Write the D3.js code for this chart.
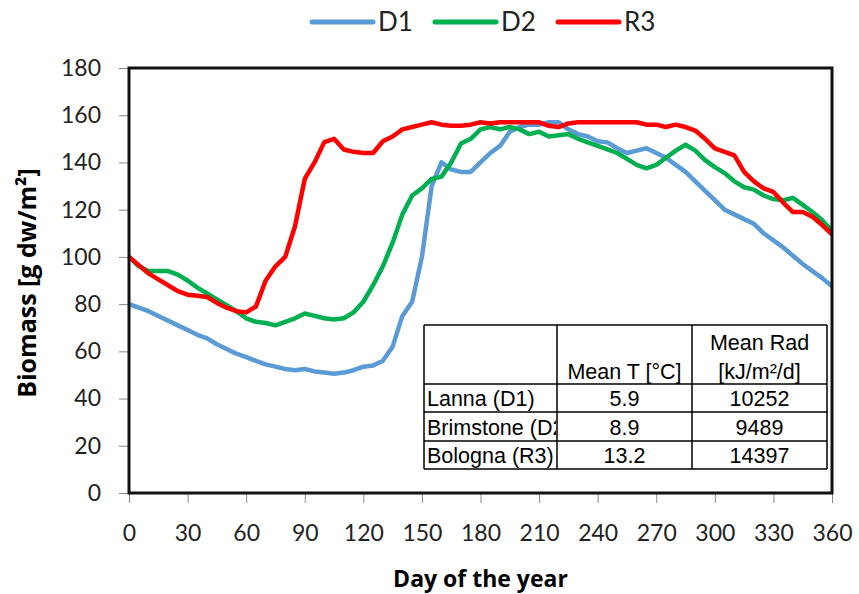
<!DOCTYPE html>
<html>
<head>
<meta charset="utf-8">
<script src="https://cdn.jsdelivr.net/npm/d3@7"></script>
<style>
  body { margin: 0; background: #fff; }
  .tick text { font-family: Lato, "Open Sans", sans-serif; fill: #222; }
  .tick line { stroke: #888; }
  .domain { display: none; }
</style>
</head>
<body>
<svg id="chart"></svg>
<script>
// day of the year, every 5 days
const days = d3.range(0, 361, 5);

const d1 = [80, 78.5, 77, 75, 73, 71, 69, 67, 65.5, 63, 61, 59, 57.5, 56, 54.5, 53.5, 52.5, 52,
  52.5, 51.5, 51, 50.5, 51, 52, 53.5, 54, 56, 62, 75, 81, 100, 130, 140, 137, 136, 136, 140, 144,
  147, 153, 155, 156, 156, 157, 157, 154, 152, 151, 149, 148.5, 146, 144, 145, 146, 144, 142, 139,
  136, 132, 128, 124, 120, 118, 116, 114, 110, 107, 104, 100.5, 97, 94, 91, 87.5];

const d2 = [100, 96, 94, 94, 94, 92.5, 90, 87, 84.5, 82, 79.5, 77, 74, 72.5, 72, 71, 72.5, 74,
  76, 75, 74, 73.5, 74, 76.5, 81, 88, 96, 106, 118, 126, 129, 133, 134, 140, 148, 150, 154, 155,
  154, 155, 154, 152, 153, 151, 151.5, 152, 150, 148.5, 147, 145.5, 144, 141.5, 139, 137.5, 139,
  142, 145, 147.5, 145, 141, 138, 135.5, 132, 129.5, 128.5, 126, 124.5, 124, 125, 122, 119, 115.5, 111];

const r3 = [100, 96.5, 93, 90.5, 88, 85.5, 84, 83.5, 83, 80.5, 78.5, 77, 76.5, 79, 90, 96, 100,
  113, 133, 140, 148.6, 150, 145.5, 144.5, 144, 144, 149, 151, 154, 155, 156, 157, 156, 155.5,
  155.5, 156, 157, 156.5, 157, 157, 157, 157, 157, 155.5, 155, 156.5, 157, 157, 157, 157, 157,
  157, 157, 156, 156, 155, 156, 155, 153.5, 150, 146, 144.5, 143, 136, 132, 129, 127.5, 123, 119,
  119, 117, 113.5, 109.5];

const seriesNames = ['D1', 'D2', 'R3'];
const seriesColors = ['#5B9BD5', '#00B050', '#FF0000'];
const seriesValues = [d1, d2, r3];

const xTicks = d3.range(0, 361, 30);
const yTicks = d3.range(0, 181, 20);

// table inside the plot
const tableHeader = ['', 'Mean T [°C]', ['Mean Rad', '[kJ/m²/d]']];
const sites = ['Lanna (D1)', 'Brimstone (D2)', 'Bologna (R3)'];
const meanT = ['5.9', '8.9', '13.2'];
const meanRad = ['10252', '9489', '14397'];

const width = 859, height = 594;
const margin = { top: 68, right: 27, bottom: 101, left: 129 };

const svg = d3.select('#chart').attr('width', width).attr('height', height);

const x = d3.scaleLinear().domain([0, 360]).range([margin.left, width - margin.right]);
const y = d3.scaleLinear().domain([0, 180]).range([height - margin.bottom, margin.top]);

svg.append('g')
  .attr('transform', `translate(0,${height - margin.bottom})`)
  .call(d3.axisBottom(x).tickValues(xTicks).tickSize(10).tickPadding(22))
  .selectAll('text').style('font-size', '23px');

svg.append('g')
  .attr('transform', `translate(${margin.left},0)`)
  .call(d3.axisLeft(y).tickValues(yTicks).tickSize(10).tickPadding(18))
  .selectAll('text').style('font-size', '23px');

const line = d3.line()
  .x((d, i) => x(days[i]))
  .y(d => y(d));

svg.append('g').selectAll('path')
  .data(seriesValues)
  .enter().append('path')
  .attr('d', line)
  .attr('fill', 'none')
  .attr('stroke', (d, i) => seriesColors[i])
  .attr('stroke-width', 4.5)
  .attr('stroke-linejoin', 'round');

// plot frame
svg.append('rect')
  .attr('x', x(0))
  .attr('y', y(180))
  .attr('width', x(360) - x(0))
  .attr('height', y(0) - y(180))
  .attr('fill', 'none')
  .attr('stroke', '#111')
  .attr('stroke-width', 3);

// table
const colX = [424, 557, 692, 827];
const rowY = [325, 384, 412, 441, 469];
const tbl = svg.append('g').style('font-family', '"Liberation Sans", Arial, sans-serif').style('font-size', '21.5px');

tbl.append('rect')
  .attr('x', colX[0]).attr('y', rowY[0])
  .attr('width', colX[3] - colX[0]).attr('height', rowY[4] - rowY[0])
  .attr('fill', '#fff');

svg.append('clipPath').attr('id', 'firstCol')
  .append('rect')
  .attr('x', colX[0]).attr('y', rowY[0])
  .attr('width', colX[1] - colX[0] - 1).attr('height', rowY[4] - rowY[0]);

tbl.append('text')
  .attr('x', (colX[1] + colX[2]) / 2).attr('y', rowY[1] - 5)
  .attr('text-anchor', 'middle').text(tableHeader[1]);

tbl.append('text')
  .attr('text-anchor', 'middle')
  .selectAll('tspan')
  .data(tableHeader[2])
  .enter().append('tspan')
  .attr('x', (colX[2] + colX[3]) / 2)
  .attr('y', (d, i) => rowY[1] - 34 + i * 29)
  .text(d => d);

sites.forEach((s, i) => {
  const cy = (rowY[i + 1] + rowY[i + 2]) / 2 + 8;
  tbl.append('text').attr('x', colX[0] + 3).attr('y', cy)
    .attr('clip-path', 'url(#firstCol)').text(s);
  tbl.append('text').attr('x', (colX[1] + colX[2]) / 2).attr('y', cy)
    .attr('text-anchor', 'middle').text(meanT[i]);
  tbl.append('text').attr('x', (colX[2] + colX[3]) / 2).attr('y', cy)
    .attr('text-anchor', 'middle').text(meanRad[i]);
});

tbl.selectAll('line.h')
  .data(rowY)
  .enter().append('line')
  .attr('x1', colX[0]).attr('x2', colX[3])
  .attr('y1', d => d).attr('y2', d => d)
  .attr('stroke', '#000').attr('stroke-width', 1.5);

tbl.selectAll('line.v')
  .data(colX)
  .enter().append('line')
  .attr('x1', d => d).attr('x2', d => d)
  .attr('y1', rowY[0]).attr('y2', rowY[4])
  .attr('stroke', '#000').attr('stroke-width', 1.5);

// legend
const legend = svg.append('g').selectAll('g')
  .data(seriesNames)
  .enter().append('g')
  .attr('transform', (d, i) => `translate(${312 + i * 123},22)`);

legend.append('line')
  .attr('x1', 0).attr('x2', 61)
  .attr('stroke', (d, i) => seriesColors[i])
  .attr('stroke-width', 5)
  .attr('stroke-linecap', 'round');

legend.append('text')
  .attr('x', 66).attr('y', 9)
  .style('font-family', 'Lato, "Open Sans", sans-serif')
  .style('font-size', '26px')
  .style('fill', '#222')
  .text(d => d);

// axis titles
svg.append('text')
  .attr('x', (x(0) + x(360)) / 2).attr('y', 587)
  .attr('text-anchor', 'middle')
  .style('font-family', '"Open Sans", sans-serif')
  .style('font-weight', 'bold')
  .style('font-size', '23px')
  .text('Day of the year');

svg.append('text')
  .attr('transform', 'translate(36,283) rotate(-90)')
  .attr('text-anchor', 'middle')
  .style('font-family', '"Open Sans", sans-serif')
  .style('font-weight', 'bold')
  .style('font-size', '25px')
  .text('Biomass [g dw/m²]');
</script>
</body>
</html>
